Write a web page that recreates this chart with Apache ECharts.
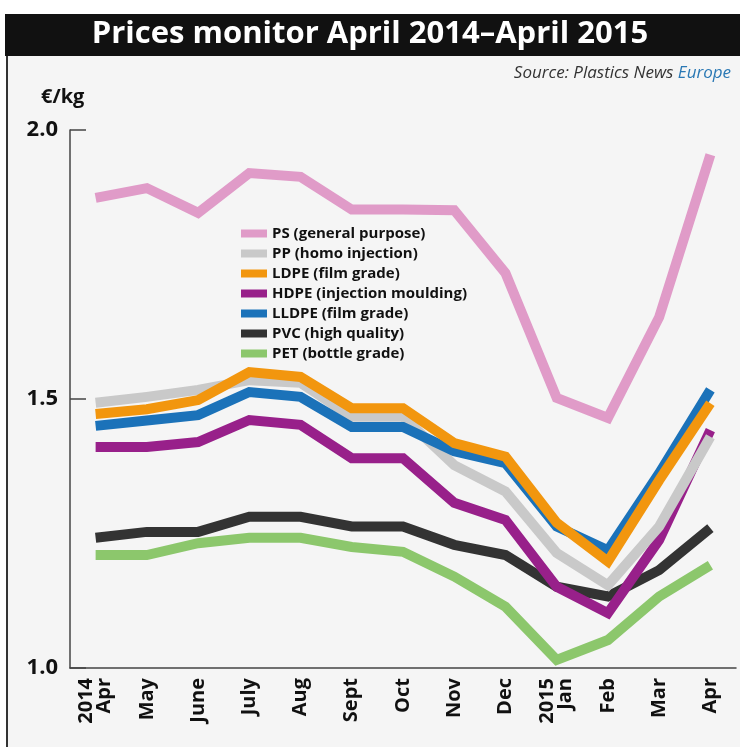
<!DOCTYPE html>
<html>
<head>
<meta charset="utf-8">
<script src="https://cdn.jsdelivr.net/npm/echarts@6/dist/echarts.min.js"></script>
<style>
  html, body { margin: 0; padding: 0; background: #fff; }
  #chart { width: 740px; height: 747px; }
</style>
</head>
<body>
<div id="chart"></div>
<script>
// months on the x axis (first of each year carries the year)
const months = ['2014\nApr', 'May', 'June', 'July', 'Aug', 'Sept', 'Oct', 'Nov', 'Dec', '2015\nJan', 'Feb', 'Mar', 'Apr']
const yTicks = [1.0, 1.5, 2.0]

// prices in €/kg
const ps = [1.874, 1.892, 1.846, 1.920, 1.913, 1.852, 1.852, 1.851, 1.734, 1.502, 1.465, 1.652, 1.954]
const pp = [1.493, 1.504, 1.517, 1.535, 1.530, 1.467, 1.467, 1.377, 1.328, 1.214, 1.154, 1.263, 1.430]
const ldpe = [1.472, 1.481, 1.498, 1.550, 1.541, 1.483, 1.483, 1.418, 1.393, 1.270, 1.198, 1.349, 1.492]
const hdpe = [1.411, 1.411, 1.420, 1.461, 1.452, 1.390, 1.390, 1.307, 1.275, 1.151, 1.102, 1.238, 1.442]
const lldpe = [1.450, 1.460, 1.470, 1.513, 1.504, 1.448, 1.448, 1.403, 1.381, 1.263, 1.219, 1.362, 1.517]
const pvc = [1.242, 1.253, 1.253, 1.281, 1.281, 1.263, 1.263, 1.229, 1.210, 1.151, 1.133, 1.182, 1.260]
const pet = [1.210, 1.210, 1.232, 1.242, 1.242, 1.225, 1.216, 1.170, 1.114, 1.015, 1.052, 1.133, 1.191]

const legendOrder = ['PS (general purpose)', 'PP (homo injection)', 'LDPE (film grade)', 'HDPE (injection moulding)', 'LLDPE (film grade)', 'PVC (high quality)', 'PET (bottle grade)']

// drawn bottom to top
const lines = [
  { name: 'PET (bottle grade)', data: pet, color: '#8cc76c' },
  { name: 'PVC (high quality)', data: pvc, color: '#333333' },
  { name: 'HDPE (injection moulding)', data: hdpe, color: '#98208a' },
  { name: 'PP (homo injection)', data: pp, color: '#c9c9c9' },
  { name: 'LLDPE (film grade)', data: lldpe, color: '#1b72b9' },
  { name: 'LDPE (film grade)', data: ldpe, color: '#f2960e' },
  { name: 'PS (general purpose)', data: ps, color: '#e09bc8' },
]

const font = '"Open Sans", sans-serif'
const chart = echarts.init(document.getElementById('chart'))

const option = {
  backgroundColor: '#f5f5f5',
  animation: false,
  graphic: [
    { type: 'rect', shape: { x: 0, y: 0, width: 740, height: 14 }, style: { fill: '#fff' }, z: -10 },
    { type: 'rect', shape: { x: 0, y: 0, width: 6, height: 747 }, style: { fill: '#fff' }, z: -10 },
    { type: 'rect', shape: { x: 6, y: 14, width: 2, height: 733 }, style: { fill: '#333' }, z: -9 },
    { type: 'rect', shape: { x: 5, y: 14, width: 735, height: 42 }, style: { fill: '#111' }, z: -9 },
  ],
  title: [
    {
      text: 'Prices monitor April 2014–April 2015',
      left: 'center',
      top: 14,
      textStyle: { color: '#fff', fontFamily: font, fontWeight: 'bold', fontSize: 31 },
    },
    {
      text: '{a|Source: Plastics News }{b|Europe}',
      right: 4,
      top: 60,
      textStyle: {
        rich: {
          a: { color: '#333', fontFamily: font, fontStyle: 'italic', fontWeight: 'normal', fontSize: 17 },
          b: { color: '#2a78b4', fontFamily: font, fontStyle: 'italic', fontWeight: 'normal', fontSize: 17 },
        },
      },
    },
    {
      text: '€/kg',
      left: 36,
      top: 82,
      textStyle: { color: '#111', fontFamily: font, fontWeight: 'bold', fontSize: 20 },
    },
  ],
  legend: {
    data: legendOrder,
    orient: 'vertical',
    left: 236,
    top: 220,
    icon: 'rect',
    itemWidth: 26,
    itemHeight: 8,
    itemGap: 3,
    textStyle: { color: '#111', fontFamily: font, fontWeight: 'bold', fontSize: 15, lineHeight: 17 },
  },
  grid: { left: 70, right: 4, top: 130, bottom: 79 },
  xAxis: {
    type: 'category',
    data: months,
    boundaryGap: true,
    axisLine: { lineStyle: { color: '#444', width: 1.5 } },
    axisTick: { inside: true, length: 12, lineStyle: { color: '#444', width: 1.5 } },
    axisLabel: { rotate: 90, margin: 10, color: '#111', fontFamily: font, fontWeight: 'bold', fontSize: 20, lineHeight: 18 },
  },
  yAxis: {
    type: 'value',
    min: yTicks[0],
    max: yTicks[yTicks.length - 1],
    interval: 0.5,
    splitLine: { show: false },
    axisLine: { show: true, lineStyle: { color: '#444', width: 1.5 } },
    axisTick: { show: true, inside: true, length: 16, lineStyle: { color: '#444', width: 1.5 } },
    axisLabel: {
      margin: 12,
      color: '#111',
      fontFamily: font,
      fontWeight: 'bold',
      fontSize: 22,
      formatter: v => v.toFixed(1),
    },
  },
  series: lines.map(l => ({
    name: l.name,
    type: 'line',
    data: l.data,
    color: l.color,
    symbol: 'none',
    lineStyle: { width: 10, color: l.color, cap: 'butt', join: 'miter' },
  })),
}

chart.setOption(option)
</script>
</body>
</html>
